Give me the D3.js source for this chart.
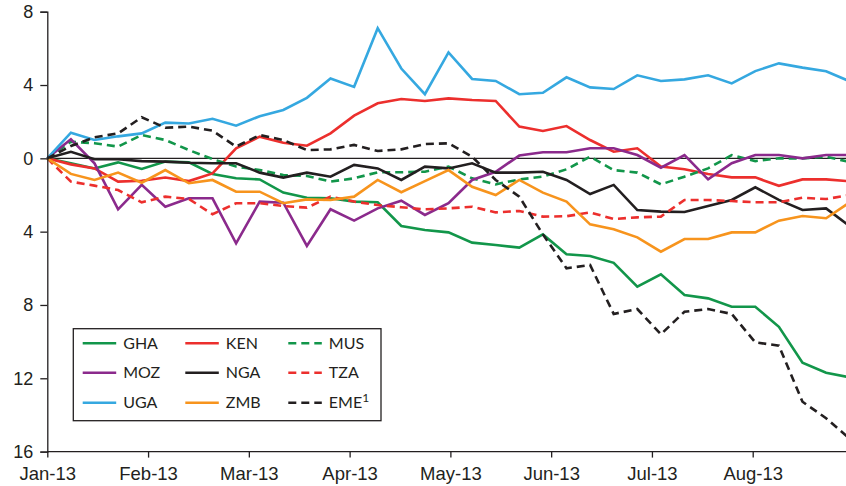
<!DOCTYPE html>
<html lang="en">
<head>
  <meta charset="UTF-8">
  <title>Weekly change by country</title>
  <script src="https://d3js.org/d3.v7.min.js"></script>
  <style>
    body { margin: 0; background: #fff; }
    svg { display: block; font-family: 'Lato', sans-serif; }
    .axis path, .axis line { stroke: #231f20; stroke-width: 1.3; }
    .axis text { fill: #231f20; font-size: 18px; }
    .xaxis text { font-size: 18.5px; }
  </style>
</head>
<body>
  <svg width="846" height="486"></svg>

  <script>
    // weekly observations, Jan-13 .. end Aug-13
    const monthLabels = ["Jan-13", "Feb-13", "Mar-13", "Apr-13", "May-13", "Jun-13", "Jul-13", "Aug-13"];
    const weeksPerMonth = 4.27;
    const yTicks = [8, 4, 0, -4, -8, -12, -16];

    const GHA = [0, -0.27, -0.55, -0.22, -0.58, -0.18, -0.22, -0.85, -1.09, -1.15, -1.87, -2.15, -2.18, -2.36, -2.4, -3.69, -3.91, -4.04, -4.6, -4.73, -4.87, -4.15, -5.23, -5.33, -5.7, -7.0, -6.33, -7.46, -7.64, -8.1, -8.1, -9.19, -11.15, -11.7, -11.95];
    const KEN = [0, -0.33, -0.55, -1.27, -1.22, -1.05, -1.24, -0.82, 0.55, 1.18, 0.85, 0.69, 1.36, 2.33, 3.0, 3.24, 3.13, 3.27, 3.18, 3.13, 1.73, 1.49, 1.76, 1.0, 0.36, 0.55, -0.45, -0.6, -0.85, -1.04, -1.04, -1.5, -1.15, -1.15, -1.25];
    const MUS = [0, 0.91, 0.82, 0.64, 1.27, 1.0, 0.45, -0.04, -0.45, -0.64, -0.91, -0.96, -1.27, -1.09, -0.76, -0.76, -0.73, -0.45, -1.09, -1.42, -1.15, -1.0, -0.6, 0.09, -0.64, -0.78, -1.42, -1.0, -0.55, 0.18, -0.15, 0, 0, 0.09, -0.2];
    const MOZ = [0, 1.04, -0.27, -2.78, -1.45, -2.64, -2.18, -2.18, -4.64, -2.36, -2.42, -4.78, -2.78, -3.4, -2.73, -2.31, -3.09, -2.45, -1.18, -0.73, 0.15, 0.33, 0.33, 0.55, 0.55, 0.18, -0.51, 0.18, -1.15, -0.27, 0.18, 0.18, 0, 0.18, 0.18];
    const NGA = [0, 0.36, -0.05, -0.05, -0.15, -0.18, -0.24, -0.27, -0.27, -0.78, -1.05, -0.78, -1.0, -0.36, -0.55, -1.18, -0.45, -0.55, -0.27, -0.78, -0.78, -0.73, -1.18, -1.95, -1.45, -2.82, -2.91, -2.93, -2.6, -2.27, -1.58, -2.27, -2.82, -2.73, -3.7];
    const TZA = [0, -1.27, -1.49, -1.73, -2.4, -2.09, -2.22, -3.05, -2.45, -2.45, -2.6, -2.69, -2.09, -2.36, -2.55, -2.67, -2.78, -2.73, -2.64, -2.95, -2.87, -3.18, -3.16, -2.95, -3.31, -3.22, -3.18, -2.27, -2.27, -2.33, -2.4, -2.4, -2.15, -2.22, -2.0];
    const UGA = [0, 1.4, 1.0, 1.2, 1.36, 1.95, 1.9, 2.16, 1.78, 2.3, 2.64, 3.3, 4.36, 3.9, 7.1, 4.9, 3.5, 5.78, 4.33, 4.22, 3.5, 3.58, 4.42, 3.87, 3.78, 4.53, 4.22, 4.31, 4.53, 4.09, 4.76, 5.18, 4.95, 4.75, 4.2];
    const ZMB = [0, -0.85, -1.18, -0.78, -1.33, -0.64, -1.36, -1.18, -1.82, -1.82, -2.45, -2.24, -2.27, -2.09, -1.18, -1.85, -1.24, -0.64, -1.55, -2.0, -1.18, -1.87, -2.36, -3.6, -3.87, -4.31, -5.09, -4.4, -4.4, -4.04, -4.04, -3.4, -3.15, -3.27, -2.4];
    const EME = [0, 0.67, 1.15, 1.36, 2.24, 1.67, 1.73, 1.51, 0.64, 1.27, 1.0, 0.45, 0.49, 0.73, 0.4, 0.49, 0.78, 0.82, 0.09, -1.18, -2.09, -4.15, -6.0, -5.82, -8.49, -8.22, -9.6, -8.37, -8.22, -8.49, -10.04, -10.22, -13.28, -14.18, -15.3];

    const series = [
      { name: "GHA", values: GHA, color: "#12964a", dash: null },
      { name: "KEN", values: KEN, color: "#ec2f2d", dash: null },
      { name: "MUS", values: MUS, color: "#12964a", dash: "8,5" },
      { name: "MOZ", values: MOZ, color: "#8b2a8c", dash: null },
      { name: "NGA", values: NGA, color: "#231f20", dash: null },
      { name: "TZA", values: TZA, color: "#ec2f2d", dash: "8,5" },
      { name: "UGA", values: UGA, color: "#35a8e0", dash: null },
      { name: "ZMB", values: ZMB, color: "#f7941d", dash: null },
      { name: "EME", sup: "1", values: EME, color: "#231f20", dash: "8,5" }
    ];

    const svg = d3.select("svg");
    const x = d3.scaleLinear().domain([0, 34]).range([47.3, 849.7]);
    const y = d3.scaleLinear().domain([-16, 8]).range([451.6, 11.7]);

    // zero line
    svg.append("line")
      .attr("x1", x(0)).attr("x2", 846)
      .attr("y1", y(0)).attr("y2", y(0))
      .attr("stroke", "#231f20").attr("stroke-width", 1.2);

    const line = d3.line().x((d, i) => x(i)).y(d => y(d));

    svg.append("g").selectAll("path")
      .data(series)
      .join("path")
      .attr("d", d => line(d.values))
      .attr("fill", "none")
      .attr("stroke", d => d.color)
      .attr("stroke-width", 2.6)
      .attr("stroke-linejoin", "miter")
      .attr("stroke-dasharray", d => d.dash);

    // axes
    const yAxis = d3.axisLeft(y).tickValues(yTicks).tickSize(7).tickPadding(7)
      .tickFormat(d => Math.abs(d));
    svg.append("g").attr("class", "axis")
      .attr("transform", `translate(${x(0)},0)`)
      .call(yAxis);

    const xAxis = d3.axisBottom(x)
      .tickValues(monthLabels.map((m, i) => i * weeksPerMonth))
      .tickSize(6).tickPadding(9)
      .tickFormat((d, i) => monthLabels[i]);
    const gx = svg.append("g").attr("class", "axis xaxis")
      .attr("transform", `translate(0,${y(-16)})`)
      .call(xAxis);
    gx.select(".domain").attr("d", `M${x(0)},0H846`);

    // legend
    const legend = svg.append("g").attr("transform", "translate(73.3,328.7)");
    legend.append("rect")
      .attr("width", 307.7).attr("height", 92)
      .attr("fill", "#fff").attr("stroke", "#231f20").attr("stroke-width", 1.3);

    const colX = [9.4, 112, 215];
    const rowY = [14.6, 44, 74];
    const item = legend.selectAll("g.item")
      .data(series)
      .join("g")
      .attr("class", "item")
      .attr("transform", (d, i) => `translate(${colX[i % 3]},${rowY[Math.floor(i / 3)]})`);
    item.append("line")
      .attr("x1", 0).attr("x2", 33.5)
      .attr("stroke", d => d.color).attr("stroke-width", 2.6)
      .attr("stroke-dasharray", d => d.dash);
    const label = item.append("text")
      .attr("x", 40.5).attr("dy", "0.36em")
      .attr("fill", "#231f20").style("font-size", "16px")
      .text(d => d.name);
    label.filter(d => d.sup).append("tspan")
      .attr("dy", "-0.5em").style("font-size", "12px")
      .text(d => d.sup);
  </script>
</body>
</html>
